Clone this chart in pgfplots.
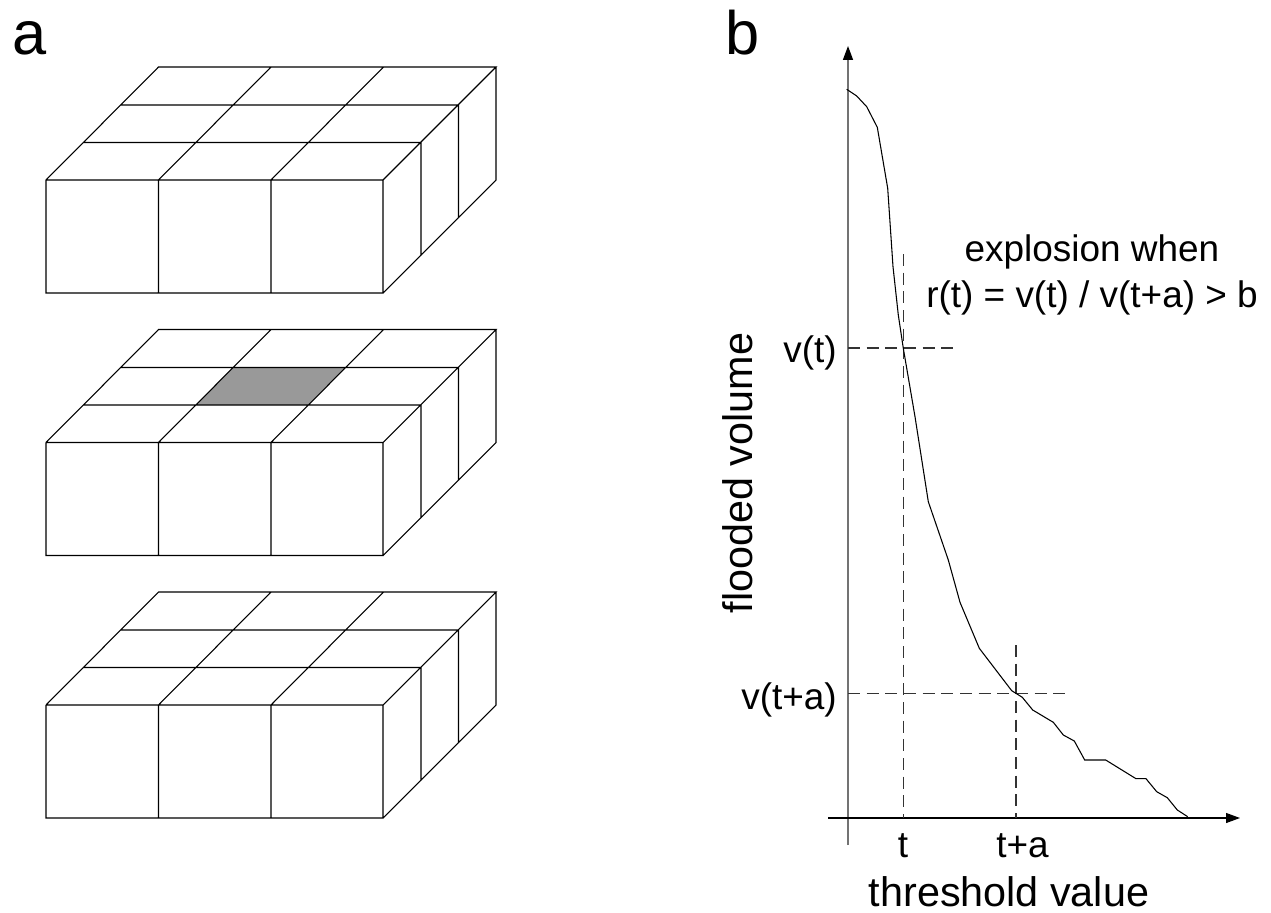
\documentclass[border=0pt]{standalone}
\usepackage{fontspec}
\setmainfont{Liberation Sans}
\usepackage{pgfplots}
\usepackage{pgfplotstable}
\pgfplotsset{compat=1.18}
\usetikzlibrary{arrows.meta}
\pgfplotstableread{
x y
46 0
383 0
383 113
46 113
46 0
nan nan
158.5 0
158.5 113
nan nan
271 0
271 113
nan nan
46 0
158.5 -113
496 -113
383 0
nan nan
496 -113
496 0
383 113
nan nan
158.5 0
271 -113
nan nan
271 0
383.5 -113
nan nan
83.5 -37.5
421 -37.5
421 75.5
nan nan
121 -75
458.5 -75
458.5 38
}\blocktable
\pgfplotstableread{
x y
846.7 89.3
856.7 96
866.7 106.7
877.3 127.3
887.7 188.3
893 266.7
898.3 315
903.3 348.3
915 416.7
928.3 501.7
948.3 560
960 602.3
979.3 648.3
1011.7 690.7
1022.3 697.3
1032.7 710
1053.3 722.3
1063.3 735
1074.3 741
1084.7 760
1105.7 760
1136 778.7
1146 778.7
1156.7 791.7
1167.3 797.7
1177.3 810
1187.7 816.7
}\curvetable
\begin{document}
\begin{tikzpicture}
\begin{axis}[
  scale only axis, width=953.25pt, height=684.75pt,
  xmin=0, xmax=1271, ymin=0, ymax=913, y dir=reverse,
  hide axis, clip=false, unbounded coords=jump,
  cycle list={{black}},
  every axis plot/.append style={black, line width=0.8pt, no markers, forget plot},
]
\path (axis cs:0,0) rectangle (axis cs:1271,913);
\addplot[draw=none, fill=black!40!white] coordinates {(232.7,367.7)(345,367.7)(308,405)(195.7,405)} -- cycle;
\addplot[black] table[y expr=\thisrow{y}+180] {\blocktable};
\addplot[black] table[y expr=\thisrow{y}+442.5] {\blocktable};
\addplot[black] table[y expr=\thisrow{y}+705] {\blocktable};
% axes
\addplot[black!55!white, line width=1.1pt, -{Triangle[length=10.5pt,width=7.5pt,color=black]}] coordinates {(848,845)(848,46)};
\addplot[black, -{Triangle[length=10.5pt,width=7.5pt]}] coordinates {(828,818)(1240,818)};
% guides
\addplot[dash pattern=on 9pt off 5pt, black!80!white] coordinates {(848,348)(955,348)};
\addplot[dash pattern=on 9pt off 5pt, black!80!white] coordinates {(848,693.5)(1065,693.5)};
\addplot[dash pattern=on 9pt off 5pt, black!80!white] coordinates {(903.5,254)(903.5,818)};
\addplot[dash pattern=on 9pt off 5pt, black!80!white] coordinates {(1016,645)(1016,818)};
% curve
\addplot[black] table {\curvetable};
% text
\node[anchor=base west, font=\fontsize{46}{46}\selectfont, inner sep=0pt] at (axis cs:12,55) {a};
\node[anchor=base west, font=\fontsize{46}{46}\selectfont, inner sep=0pt] at (axis cs:725,55) {b};
\tikzset{lab/.style={font=\fontsize{27.7}{27.7}\selectfont, inner sep=0pt},
         big/.style={font=\fontsize{31}{31}\selectfont, inner sep=0pt}}
\node[lab, anchor=base] at (axis cs:1092,262) {explosion when};
\node[lab, anchor=base] at (axis cs:1092,307) {r(t) = v(t) / v(t+a) > b};
\node[lab, anchor=base east] at (axis cs:837,362) {v(t)};
\node[lab, anchor=base east] at (axis cs:837,709) {v(t+a)};
\node[lab, anchor=base] at (axis cs:903,857) {t};
\node[lab, anchor=base] at (axis cs:1022.5,857) {t+a};
\node[big, anchor=base] at (axis cs:1009,906) {threshold value};
\node[big, anchor=base, rotate=90] at (axis cs:752.7,473) {flooded volume};
\end{axis}
\end{tikzpicture}
\end{document}
